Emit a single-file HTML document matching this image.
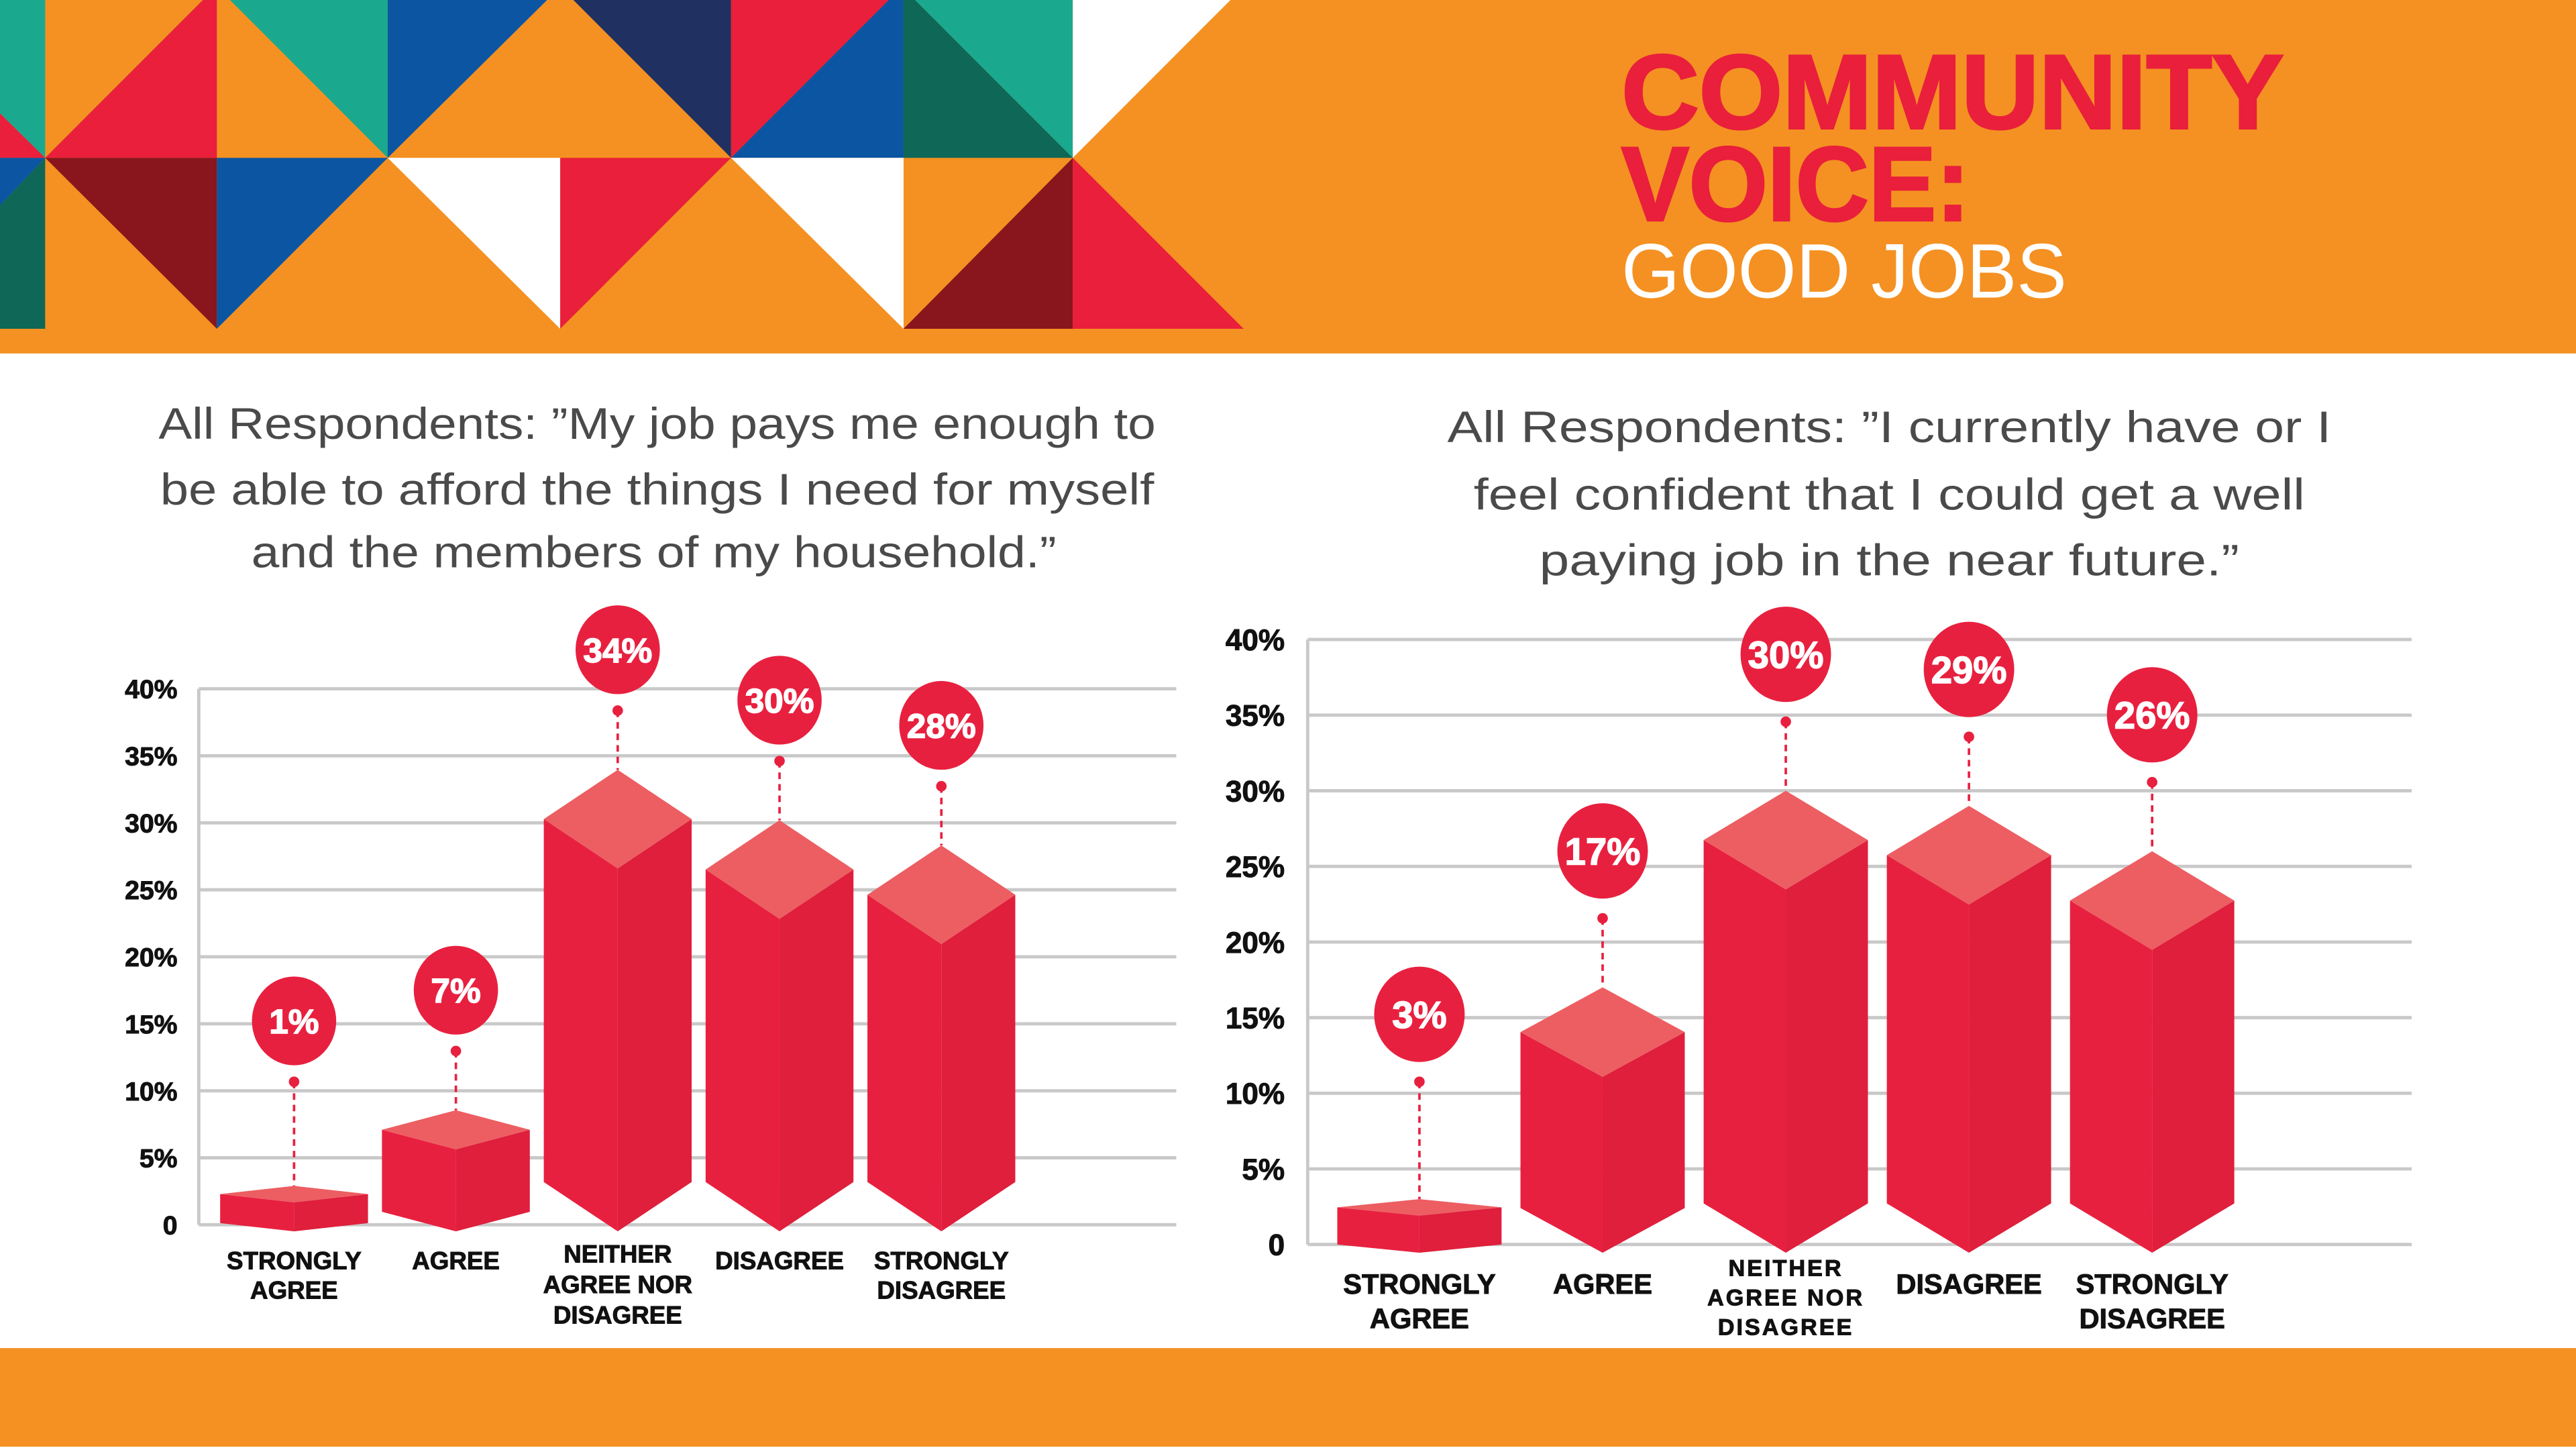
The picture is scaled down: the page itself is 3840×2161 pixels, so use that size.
<!DOCTYPE html>
<html><head><meta charset="utf-8"><style>
html,body{margin:0;padding:0;background:#fff;}
svg{display:block;}
text{font-family:"Liberation Sans",sans-serif;}
</style></head><body>
<svg id="root" width="3840" height="2161" viewBox="0 0 1568 882" preserveAspectRatio="none" xmlns="http://www.w3.org/2000/svg">
<rect x="0" y="0" width="1568" height="882" fill="#fff"/>
<g>
<rect x="0" y="0" width="1568" height="215" fill="#f49122"/>
<polygon fill="#1aa98f" points="0,0 27.5,0 27.5,96 0,69"/>
<polygon fill="#e91f3b" points="0,69 27.5,96 0,96"/>
<polygon fill="#e91f3b" points="123.5,0 132,0 132,96 27.5,96"/>
<polygon fill="#1aa98f" points="140,0 236,0 236,96"/>
<polygon fill="#0c55a2" points="236,0 333,0 236,96"/>
<polygon fill="#1f3061" points="349,0 445,0 445,96"/>
<polygon fill="#e91f3b" points="445,0 541,0 445,96"/>
<polygon fill="#0c55a2" points="541,0 550,0 550,96 445,96"/>
<polygon fill="#0f6757" points="550,0 557,0 653,96 550,96"/>
<polygon fill="#1aa98f" points="557,0 653,0 653,96"/>
<polygon fill="#fff" points="653,0 749,0 653,96"/>
<polygon fill="#0c55a2" points="0,96 27.5,96 0,125"/>
<polygon fill="#0f6757" points="0,125 27.5,96 27.5,200 0,200"/>
<polygon fill="#88161c" points="27.5,96 132,96 132,200"/>
<polygon fill="#0c55a2" points="132,96 236,96 132,200"/>
<polygon fill="#fff" points="236,96 341,96 341,200"/>
<polygon fill="#e91f3b" points="341,96 445,96 341,200"/>
<polygon fill="#fff" points="445,96 550,96 550,200"/>
<polygon fill="#88161c" points="653,96 653,200 550,200"/>
<polygon fill="#e91f3b" points="653,96 653,200 757,200"/>
<text x="987" y="78" font-size="64" font-weight="900" fill="#e91f3b" stroke="#e91f3b" stroke-width="1.5" textLength="403" lengthAdjust="spacingAndGlyphs">COMMUNITY</text>
<text x="987" y="134" font-size="64" font-weight="900" fill="#e91f3b" stroke="#e91f3b" stroke-width="1.5" textLength="212" lengthAdjust="spacingAndGlyphs">VOICE:</text>
<text x="987" y="181" font-size="47" fill="#fff" textLength="271" lengthAdjust="spacingAndGlyphs">GOOD JOBS</text>
</g>
<rect x="0" y="820" width="1568" height="60" fill="#f49122"/>
<g fill="#4a4a4a" font-size="27" text-anchor="middle">
<text x="400" y="267" textLength="607" lengthAdjust="spacingAndGlyphs">All Respondents: ”My job pays me enough to</text>
<text x="400" y="307" textLength="605" lengthAdjust="spacingAndGlyphs">be able to afford the things I need for myself</text>
<text x="398" y="345" textLength="490" lengthAdjust="spacingAndGlyphs">and the members of my household.”</text>
</g>
<g fill="#4a4a4a" font-size="27" text-anchor="middle">
<text x="1150" y="269" textLength="538" lengthAdjust="spacingAndGlyphs">All Respondents: ”I currently have or I</text>
<text x="1150" y="310" textLength="506" lengthAdjust="spacingAndGlyphs">feel confident that I could get a well</text>
<text x="1150" y="350" textLength="426" lengthAdjust="spacingAndGlyphs">paying job in the near future.”</text>
</g>
<g id="chart1"></g>
<g id="chart2"></g>
</svg>
<script>
const ticks = [0,5,10,15,20,25,30,35,40];
const tickLabels = ["0","5%","10%","15%","20%","25%","30%","35%","40%"];
const categories1 = [["STRONGLY","AGREE"],["AGREE"],["NEITHER","AGREE NOR","DISAGREE"],["DISAGREE"],["STRONGLY","DISAGREE"]];
const values1 = [1,7,34,30,28];
const categories2 = [["STRONGLY","AGREE"],["AGREE"],["NEITHER","AGREE NOR","DISAGREE"],["DISAGREE"],["STRONGLY","DISAGREE"]];
const values2 = [3,17,30,29,26];

const NS = "http://www.w3.org/2000/svg";
function mk(tag, attrs, parent){const e=document.createElementNS(NS,tag);for(const k in attrs)e.setAttribute(k,attrs[k]);parent.appendChild(e);return e;}

function draw(g, cfg, cats, vals){
  const yAxis = v => cfg.y0 - (cfg.y0 - cfg.y40) * v / 40;
  const yBar = cfg.barY;
  const xBand = i => cfg.x0 + cfg.step * i;
  ticks.forEach((t,i)=>{
    const y = yAxis(t);
    const l = mk('line',{x1:cfg.axisX,x2:cfg.gridEnd,y1:y,y2:y,stroke:'#c9c9c9','stroke-width':2},g);
    
    
    const tx = mk('text',{x:cfg.tickX,y:y+cfg.tickFs*0.36,'font-size':cfg.tickFs,'font-weight':'bold','text-anchor':'end',fill:'#111',stroke:'#111','stroke-width':0.4},g);
    tx.textContent = tickLabels[i];
    
    
  });
  const ax = mk('line',{x1:cfg.axisX,x2:cfg.axisX,y1:yAxis(40),y2:yAxis(0),stroke:'#c9c9c9','stroke-width':2},g);
  
  
  vals.forEach((v,i)=>{
    const cx = xBand(i), hw = cfg.hw;
    const peak = yBar(v);
    const d = Math.max(5, Math.min(30, v*cfg.dk));
    const bot = cfg.botY;
    const bg = mk('g',{},g);
    
    
    mk('polygon',{fill:'#e8203f',points:`${cx-hw},${peak+d} ${cx},${peak+2*d} ${cx},${bot} ${cx-hw},${bot-d}`},bg);
    mk('polygon',{fill:'#df1f3c',points:`${cx},${peak+2*d} ${cx+hw},${peak+d} ${cx+hw},${bot-d} ${cx},${bot}`},bg);
    mk('polygon',{fill:'#ec5e62',points:`${cx},${peak} ${cx+hw},${peak+d} ${cx},${peak+2*d} ${cx-hw},${peak+d}`},bg);
    const dot = Math.min(peak - cfg.dotGap, cfg.dotMax);
    mk('line',{x1:cx,x2:cx,y1:dot,y2:peak,stroke:'#e8203f','stroke-width':1.5,'stroke-dasharray':'4,3'},bg);
    mk('circle',{cx:cx,cy:dot,r:3.2,fill:'#e8203f'},bg);
    const by = dot - cfg.bubGap;
    const bub = mk('ellipse',{cx:cx,cy:by,rx:cfg.r*0.95,ry:cfg.r,fill:'#e8203f'},g);
    
    
    const vt = mk('text',{x:cx,y:by+cfg.valFs*0.36,'font-size':cfg.valFs,'font-weight':'900','text-anchor':'middle',fill:'#fff',stroke:'#fff','stroke-width':0.6},g);
    vt.textContent = v+'%';
    
    
    const lines = cats[i];
    const lh = lines.length===3 ? cfg.lh3 : cfg.lh;
    const start = lines.length===3 ? cfg.lab3 : (lines.length===1 ? cfg.lab1 : cfg.lab2);
    lines.forEach((s,j)=>{
      const t = mk('text',{x:cx,y:start+lh*j,'font-size':lines.length===3?cfg.labFs3:cfg.labFs,'font-weight':'bold','text-anchor':'middle',fill:'#111',stroke:'#111','stroke-width':0.4,'letter-spacing':lines.length===3?cfg.ls3:0},g);
      t.textContent = s;
      
      
    });
  });
}
draw(document.getElementById('chart1'),{
  y0:745,y40:419,axisX:121,gridEnd:716,tickX:108,tickFs:16,
  x0:179,step:98.5,hw:45,barY:v=>729 - v*7.67,botY:749,dk:1.7,dotGap:36,dotMax:658,bubGap:37,r:27,valFs:21,
  labFs:15,labFs3:15,lh:18,lh3:18.5,lab1:772,lab2:772,lab3:768,ls3:0
},categories1,values1);
draw(document.getElementById('chart2'),{
  y0:757,y40:389,axisX:796,gridEnd:1468,tickX:782,tickFs:18,
  x0:864,step:111.5,hw:50,barY:v=>757 - (757-389)*v/40,botY:762,dk:1.6,dotGap:42,dotMax:658,bubGap:41,r:29,valFs:23,
  labFs:17,labFs3:14,lh:21,lh3:18,lab1:787,lab2:787,lab3:776,ls3:1.2
},categories2,values2);
</script>
</body></html>
